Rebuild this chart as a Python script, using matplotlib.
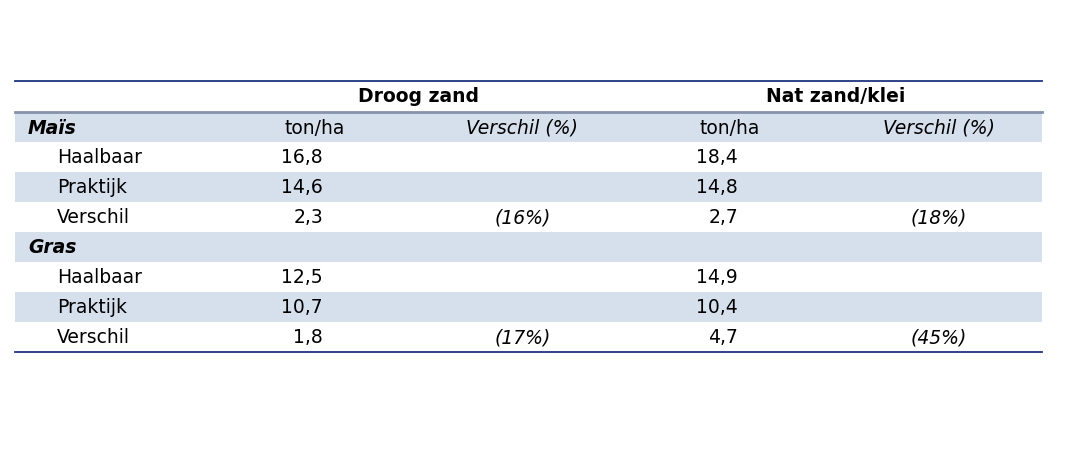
import matplotlib.pyplot as plt
from matplotlib.patches import Rectangle

# table content
regions = ["Droog zand", "Nat zand/klei"]
groups = ["Maïs", "Gras"]
items = ["Haalbaar", "Praktijk", "Verschil"]
droog_ton = [["16,8", "14,6", "2,3"], ["12,5", "10,7", "1,8"]]
droog_pct = [["", "", "(16%)"], ["", "", "(17%)"]]
nat_ton = [["18,4", "14,8", "2,7"], ["14,9", "10,4", "4,7"]]
nat_pct = [["", "", "(18%)"], ["", "", "(45%)"]]

band = "#d6dfec"
navy = "#1f3580"
fs = 13.5

fig = plt.figure(figsize=(10.7, 4.52), dpi=100)
ax = fig.add_axes([0, 0, 1, 1])
ax.set_xlim(0, 1070)
ax.set_ylim(452, 0)
ax.axis("off")

left, right = 15, 1042
row_h = 30
top_body = 113

# header lines
ax.plot([left, right], [82, 82], color=navy, lw=1.3)
ax.plot([left, right], [112.5, 112.5], color="#8592aa", lw=2)

ax.text(419, 96, regions[0], ha="center", va="center", fontsize=fs, fontweight="bold")
ax.text(836, 96, regions[1], ha="center", va="center", fontsize=fs, fontweight="bold")

r = 0
for g in range(len(groups)):
    y0 = top_body + r * row_h
    ax.add_patch(Rectangle((left, y0), right - left, row_h, color=band, lw=0))
    yc = y0 + row_h / 2
    ax.text(28, yc, groups[g], ha="left", va="center", fontsize=fs,
            fontweight="bold", fontstyle="italic")
    if g == 0:
        ax.text(315, yc, "ton/ha", ha="center", va="center", fontsize=fs)
        ax.text(522, yc, "Verschil (%)", ha="center", va="center", fontsize=fs, fontstyle="italic")
        ax.text(730, yc, "ton/ha", ha="center", va="center", fontsize=fs)
        ax.text(939, yc, "Verschil (%)", ha="center", va="center", fontsize=fs, fontstyle="italic")
    r += 1
    for i, name in enumerate(items):
        y0 = top_body + r * row_h
        if i == 1:
            ax.add_patch(Rectangle((left, y0), right - left, row_h, color=band, lw=0))
        yc = y0 + row_h / 2
        ax.text(57, yc, name, ha="left", va="center", fontsize=fs)
        ax.text(323, yc, droog_ton[g][i], ha="right", va="center", fontsize=fs)
        ax.text(523, yc, droog_pct[g][i], ha="center", va="center", fontsize=fs, fontstyle="italic")
        ax.text(738, yc, nat_ton[g][i], ha="right", va="center", fontsize=fs)
        ax.text(939, yc, nat_pct[g][i], ha="center", va="center", fontsize=fs, fontstyle="italic")
        r += 1

ax.plot([left, right], [top_body + r * row_h, top_body + r * row_h], color=navy, lw=1.3)

fig.savefig("out.png", dpi=100)
